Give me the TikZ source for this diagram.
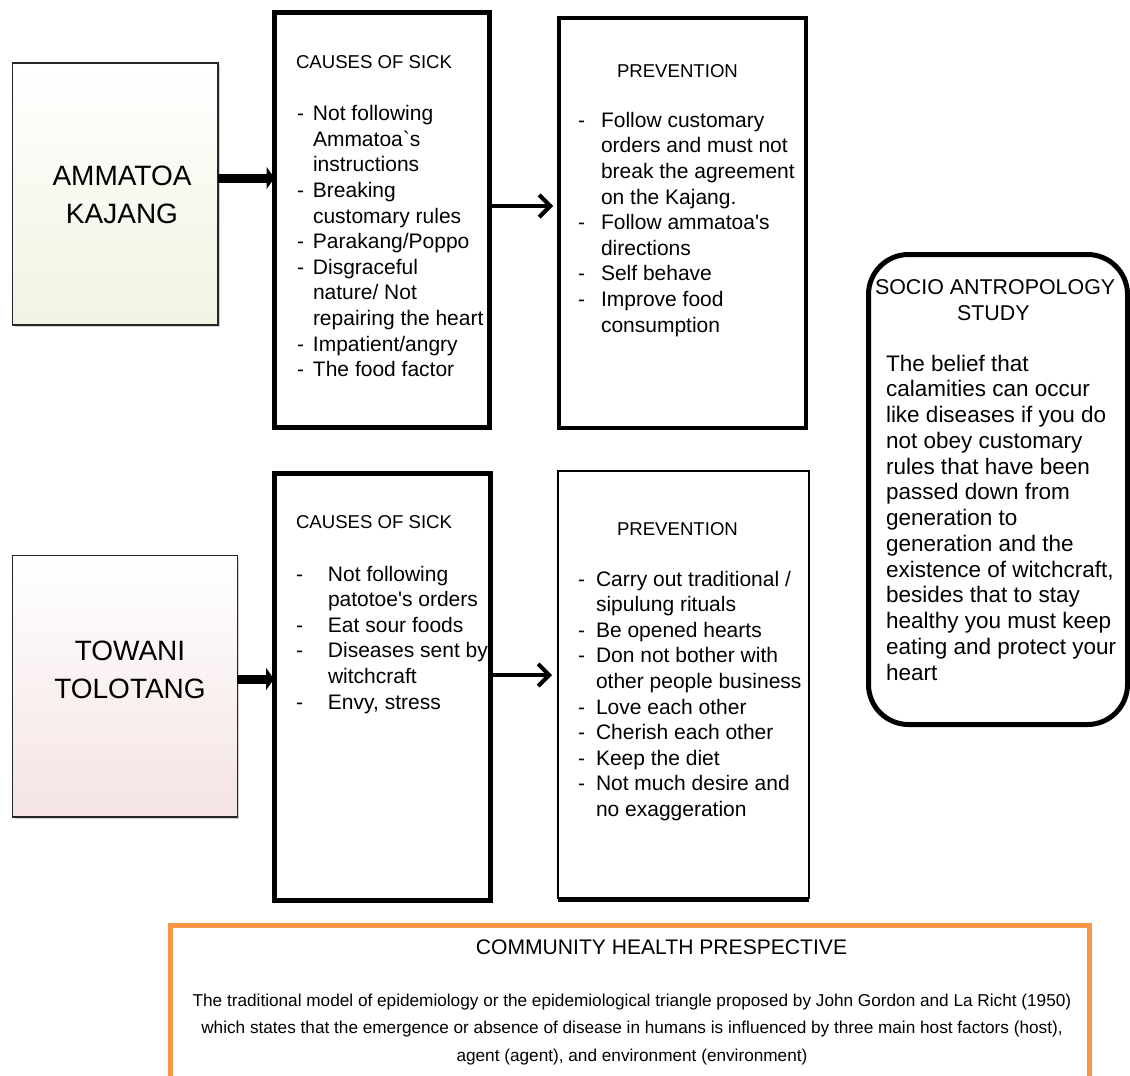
\documentclass[tikz,border=0pt]{standalone}
\usepackage{fontspec}
\setmainfont{Liberation Sans}
\usetikzlibrary{arrows.meta,shadows}
\definecolor{orng}{HTML}{F79646}
\definecolor{ammbot}{HTML}{F1F3E2}
\definecolor{towbot}{HTML}{F5E3E3}
\newcommand{\myDash}[1]{\makebox[#1][l]{-}}
\newcommand{\myHdr}{\fontsize{18.6}{22}\selectfont}
\newcommand{\myItm}{\fontsize{21}{25.6}\selectfont}
\newcommand{\mySoc}{\fontsize{22.5}{25.75}\selectfont}
\newcommand{\mySocH}{\fontsize{21.4}{25.6}\selectfont}
\newcommand{\myBig}{\fontsize{28}{38}\selectfont}
\begin{document}
\begin{tikzpicture}[x=1pt,y=-1pt,
  srcbox/.style={draw=black!85,line width=1.3pt,inner sep=0,outer sep=0,anchor=north west,
    drop shadow={shadow xshift=2pt,shadow yshift=-2pt,opacity=0.35,fill=black!50}},
  causebox/.style={draw,line width=5pt,inner sep=0,outer sep=0,anchor=north west,fill=white,
    drop shadow={shadow xshift=1.5pt,shadow yshift=-1.5pt,opacity=0.3,fill=black!50}},
  txt/.style={inner sep=0,outer sep=0,anchor=base west,align=left},
  bigarr/.style={line width=9pt,-{Triangle[length=8pt,width=22pt]}},
  barbarr/.style={line width=4pt,-{Straight Barb[length=11pt,width=22pt]},shorten >=6pt},
]
\useasboundingbox (0,0) rectangle (1130,1076);
\clip (0,0) rectangle (1130,1076);
\fill[white] (0,0) rectangle (1130,1076);

% ---------- source boxes ----------
\node[srcbox,top color=white,bottom color=ammbot,minimum width=205.3pt,minimum height=262pt] (amm) at (12.7,63) {};
\node[align=center,font=\myBig,inner sep=0,anchor=base] (ammt) at (122,223) {AMMATOA\\KAJANG};

\node[srcbox,top color=white,bottom color=towbot,minimum width=224.6pt,minimum height=261.5pt] (tow) at (12.7,555.5) {};
\node[align=center,font=\myBig,inner sep=0,anchor=base] (towt) at (130,698) {TOWANI\\TOLOTANG};

% ---------- causes boxes ----------
\node[causebox,minimum width=215pt,minimum height=415pt] (c1) at (274.5,12.5) {};
\node[txt,font=\myHdr] (c1h) at (296,68) {CAUSES OF SICK};
\node[txt,font=\myItm] (c1l) at (297,376.7) {\myDash{16pt}Not following\\
\hspace*{16pt}Ammatoa\textasciigrave s\\
\hspace*{16pt}instructions\\
\myDash{16pt}Breaking\\
\hspace*{16pt}customary rules\\
\myDash{16pt}Parakang/Poppo\\
\myDash{16pt}Disgraceful\\
\hspace*{16pt}nature/ Not\\
\hspace*{16pt}repairing the heart\\
\myDash{16pt}Impatient/angry\\
\myDash{16pt}The food factor};

\node[causebox,minimum width=216pt,minimum height=427pt] (c2) at (274,473) {};
\node[txt,font=\myHdr] (c2h) at (296,528) {CAUSES OF SICK};
\node[txt,font=\myItm] (c2l) at (296,709) {\myDash{32pt}Not following\\
\hspace*{32pt}patotoe\textquotesingle s orders\\
\myDash{32pt}Eat sour foods\\
\myDash{32pt}Diseases sent by\\
\hspace*{32pt}witchcraft\\
\myDash{32pt}Envy, stress};

% ---------- prevention boxes ----------
\node[draw,line width=4.5pt,inner sep=0,outer sep=0,anchor=north west,fill=white,minimum width=247pt,minimum height=410pt] (p1) at (559,18) {};
\node[txt,font=\myHdr] (p1h) at (617,77) {PREVENTION};
\node[txt,font=\myItm] (p1l) at (578,332) {\myDash{23pt}Follow customary\\
\hspace*{23pt}orders and must not\\
\hspace*{23pt}break the agreement\\
\hspace*{23pt}on the Kajang.\\
\myDash{23pt}Follow ammatoa\textquotesingle s\\
\hspace*{23pt}directions\\
\myDash{23pt}Self behave\\
\myDash{23pt}Improve food\\
\hspace*{23pt}consumption};

\node[draw,line width=2.5pt,inner sep=0,outer sep=0,anchor=north west,fill=white,minimum width=251pt,minimum height=427pt] (p2) at (558,471) {};
\draw[line width=5pt] ([yshift=-1pt]p2.south west) -- ([yshift=-1pt]p2.south east);
\node[txt,font=\myHdr] (p2h) at (617,535) {PREVENTION};
\node[txt,font=\myItm] (p2l) at (578,816.5) {\myDash{18pt}Carry out traditional /\\
\hspace*{18pt}sipulung rituals\\
\myDash{18pt}Be opened hearts\\
\myDash{18pt}Don not bother with\\
\hspace*{18pt}other people business\\
\myDash{18pt}Love each other\\
\myDash{18pt}Cherish each other\\
\myDash{18pt}Keep the diet\\
\myDash{18pt}Not much desire and\\
\hspace*{18pt}no exaggeration};

% ---------- socio box ----------
\node[draw,line width=5pt,rounded corners=40pt,inner sep=0,outer sep=0,anchor=north west,minimum width=259pt,minimum height=470pt] (socio) at (868.5,254.5) {};
\node[txt,font=\mySocH] (soch1) at (875,294) {SOCIO ANTROPOLOGY};
\node[txt,font=\mySocH] (soch2) at (957,320) {STUDY};
\node[txt,font=\mySoc] (socb) at (886,680) {The belief that\\
calamities can occur\\
like diseases if you do\\
not obey customary\\
rules that have been\\
passed down from\\
generation to\\
generation and the\\
existence of witchcraft,\\
besides that to stay\\
healthy you must keep\\
eating and protect your\\
heart};

% ---------- community box ----------
\node[draw=orng,line width=5pt,inner sep=0,outer sep=0,anchor=north west,fill=white,minimum width=919pt,minimum height=170pt] (comm) at (170.5,925.5) {};
\node[font=\fontsize{21.1}{24}\selectfont,inner sep=0,anchor=base] (commh) at (661.5,954) {COMMUNITY HEALTH PRESPECTIVE};
\node[font=\fontsize{17.2}{27.8}\selectfont,inner sep=0,anchor=base,align=center] (commb) at (632,1061.6) {The traditional model of epidemiology or the epidemiological triangle proposed by John Gordon and La Richt (1950)\\
which states that the emergence or absence of disease in humans is influenced by three main host factors (host),\\
agent (agent), and environment (environment)};

% ---------- connectors ----------
\coordinate (ya1) at (0,178);
\coordinate (ya2) at (0,206);
\coordinate (ya3) at (0,679);
\coordinate (ya4) at (0,675);
\draw[bigarr] (amm.east |- ya1) -- (c1.west |- ya1);
\draw[bigarr] (tow.east |- ya3) -- (c2.west |- ya3);
\draw[barbarr,black!35,xshift=1.5pt,yshift=-1.5pt] (c1.east |- ya2) -- (p1.west |- ya2);
\draw[barbarr] (c1.east |- ya2) -- (p1.west |- ya2);
\draw[barbarr,black!35,xshift=1.5pt,yshift=-1.5pt] (c2.east |- ya4) -- (p2.west |- ya4);
\draw[barbarr] (c2.east |- ya4) -- (p2.west |- ya4);
\end{tikzpicture}
\end{document}
